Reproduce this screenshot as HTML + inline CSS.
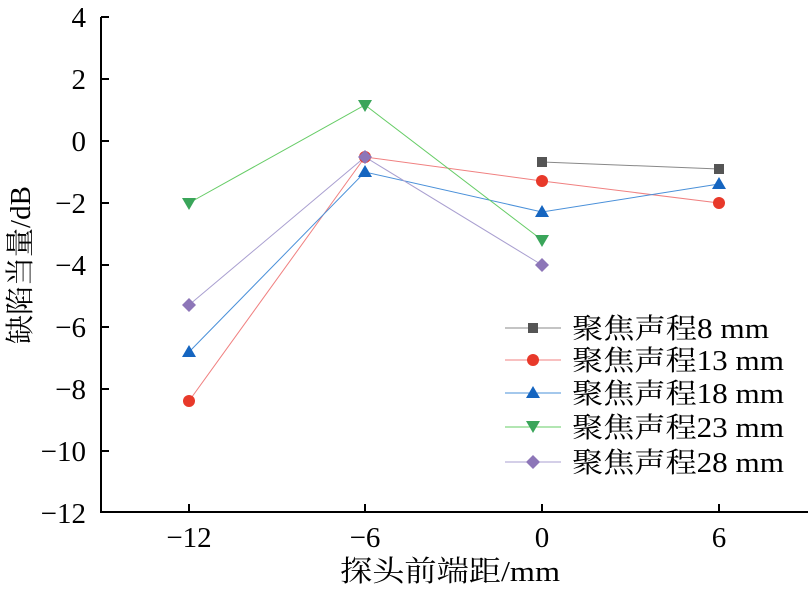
<!DOCTYPE html><html><head><meta charset="utf-8"><style>body{margin:0;background:#fff}svg{display:block}</style></head><body>
<svg width="812" height="589" xmlns="http://www.w3.org/2000/svg" font-family="Liberation Serif, Noto Serif CJK SC, serif">
<g stroke="#000" stroke-width="2" fill="none">
<path d="M101 17 V512 H808"/>
<path d="M101 17h8M101 79h8M101 141h8M101 203h8M101 265h8M101 327h8M101 389h8M101 451h8"/>
<path d="M189 512v-8M365 512v-8M542 512v-8M719 512v-8"/>
</g>
<g font-size="29" text-anchor="end" fill="#000">
<text x="86" y="27">4</text><text x="86" y="89">2</text><text x="86" y="151">0</text><text x="86" y="213">−2</text><text x="86" y="275">−4</text><text x="86" y="337">−6</text><text x="86" y="399">−8</text><text x="86" y="461">−10</text><text x="86" y="523">−12</text>
</g>
<g font-size="29" text-anchor="middle">
<text x="189" y="547">−12</text><text x="365" y="547">−6</text><text x="542" y="547">0</text><text x="719" y="547">6</text>
</g>
<text x="340" y="581" font-size="29" textLength="220" lengthAdjust="spacingAndGlyphs">探头前端距/mm</text>
<text transform="translate(30 265) rotate(-90)" font-size="29" text-anchor="middle">缺陷当量/dB</text>
<g stroke-width="1">
<polyline points="542,162 719,169" stroke="#888" fill="none"/>
<polyline points="189,401 365,157 542,181 719,203" stroke="#f08080" fill="none"/>
<polyline points="189,352 365,172 542,212 719,184" stroke="#4a90d9" fill="none"/>
<polyline points="189,203 365,105 542,240" stroke="#6c6" fill="none"/>
<polyline points="189,305 365,157 542,265" stroke="#a99fd0" fill="none"/>
</g>
<g fill="#555"><rect x="537" y="157" width="10" height="10"/><rect x="714" y="164" width="10" height="10"/></g>
<g fill="#e8392a"><circle cx="189" cy="401" r="6"/><circle cx="365" cy="157" r="6"/><circle cx="542" cy="181" r="6"/><circle cx="719" cy="203" r="6"/></g>
<g fill="#1565c0"><path d="M189 345l7 12h-14z"/><path d="M365 165l7 12h-14z"/><path d="M542 205l7 12h-14z"/><path d="M719 177l7 12h-14z"/></g>
<g fill="#3aa55a"><path d="M189 210l7-12h-14z"/><path d="M365 112l7-12h-14z"/><path d="M542 247l7-12h-14z"/></g>
<g fill="#8d76b8"><path d="M189 298l7 7-7 7-7-7z"/><path d="M365 150l7 7-7 7-7-7z"/><path d="M542 258l7 7-7 7-7-7z"/></g>
<g stroke-width="1">
<line x1="505" y1="328" x2="561" y2="328" stroke="#888"/>
<line x1="505" y1="360" x2="561" y2="360" stroke="#f08080"/>
<line x1="505" y1="393" x2="561" y2="393" stroke="#4a90d9"/>
<line x1="505" y1="427" x2="561" y2="427" stroke="#6c6"/>
<line x1="505" y1="462" x2="561" y2="462" stroke="#a99fd0"/>
</g>
<rect x="528" y="323" width="10" height="10" fill="#555"/>
<circle cx="533" cy="360" r="6" fill="#e8392a"/>
<path d="M533 386l7 12h-14z" fill="#1565c0"/>
<path d="M533 433l7-12h-14z" fill="#3aa55a"/>
<path d="M533 455l7 7-7 7-7-7z" fill="#8d76b8"/>
<g font-size="28" lengthAdjust="spacingAndGlyphs">
<text x="572" y="338" textLength="197" lengthAdjust="spacingAndGlyphs">聚焦声程8 mm</text>
<text x="572" y="370" textLength="212" lengthAdjust="spacingAndGlyphs">聚焦声程13 mm</text>
<text x="572" y="403" textLength="212" lengthAdjust="spacingAndGlyphs">聚焦声程18 mm</text>
<text x="572" y="437" textLength="212" lengthAdjust="spacingAndGlyphs">聚焦声程23 mm</text>
<text x="572" y="472" textLength="212" lengthAdjust="spacingAndGlyphs">聚焦声程28 mm</text>
</g>
</svg></body></html>
